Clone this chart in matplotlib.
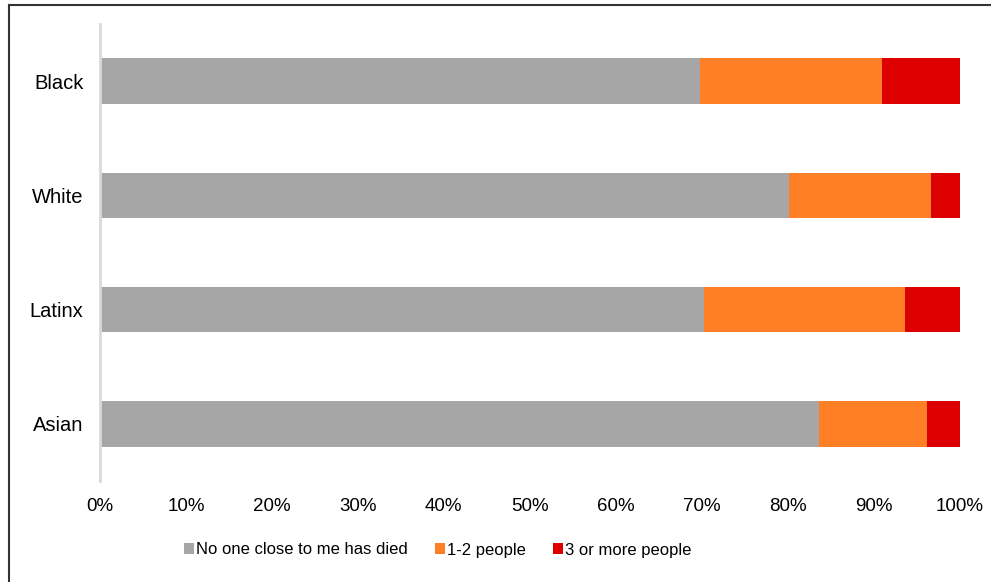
import matplotlib
matplotlib.use('Agg')
import matplotlib.pyplot as plt
import numpy as np

plt.rcParams['font.family'] = ['Liberation Sans', 'DejaVu Sans']

# groups, top to bottom
groups = ['Black', 'White', 'Latinx', 'Asian']
# share of respondents (%)
none_died = [69.8, 80.2, 70.3, 83.7]
one_two = [21.2, 16.5, 23.4, 12.5]
three_plus = [9.0, 3.3, 6.3, 3.8]
series_names = ['No one close to me has died', '1-2 people', '3 or more people']
colors = ['#A6A6A6', '#FE7F25', '#DC0000']
xticks = np.arange(0, 101, 10)

fig = plt.figure(figsize=(9.91, 5.82), dpi=100)
ax = fig.add_axes([100 / 991, 1 - 481 / 582, 859.5 / 991, 457 / 582])

y = np.arange(len(groups))
left = np.zeros(len(groups))
for vals, name, c in zip([none_died, one_two, three_plus], series_names, colors):
    ax.barh(y, vals, left=left, height=0.4, color=c, label=name)
    left = left + np.array(vals)

ax.set_ylim(len(groups) - 0.5, -0.5)
ax.set_xlim(0, 100)
ax.set_yticks(y)
ax.set_yticklabels(groups, fontsize=14.5)
ax.set_xticks(xticks)
ax.set_xticklabels(['{}%'.format(t) for t in xticks], fontsize=13.5)
ax.tick_params(axis='both', length=0)
ax.tick_params(axis='y', pad=12)
ax.tick_params(axis='x', pad=12)
for s in ['top', 'right', 'bottom']:
    ax.spines[s].set_visible(False)
ax.spines['left'].set_color('#D9D9D9')
ax.spines['left'].set_linewidth(2)

# legend below the axis
fig.legend(loc='center', bbox_to_anchor=(437.5 / 991, 1 - 550 / 582), ncol=3, frameon=False,
           fontsize=12, handlelength=0.6, handleheight=0.6, handletextpad=0.15,
           columnspacing=1.6)

# frame lines (left and top) like the cropped border in the original
fig.add_artist(plt.Line2D([9 / 991, 9 / 991], [0, 1 - 5 / 582], transform=fig.transFigure,
                          color='#333333', linewidth=1.5))
fig.add_artist(plt.Line2D([9 / 991, 1], [1 - 5 / 582, 1 - 5 / 582], transform=fig.transFigure,
                          color='#333333', linewidth=1.5))

fig.savefig('out.png', dpi=100)
